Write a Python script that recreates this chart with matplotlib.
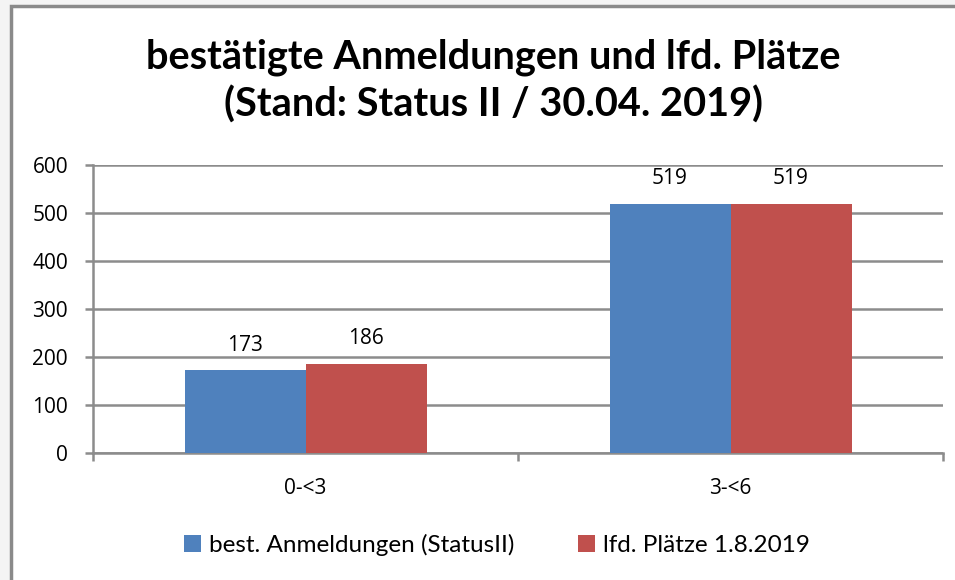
import matplotlib
matplotlib.use("Agg")
import matplotlib.pyplot as plt
from matplotlib.patches import Rectangle
import numpy as np

categories = ["0-<3", "3-<6"]
series_names = ["best. Anmeldungen (StatusII)", "lfd. Plätze 1.8.2019"]
anmeldungen = [173, 519]
plaetze = [186, 519]
yticks = [0, 100, 200, 300, 400, 500, 600]
title = "bestätigte Anmeldungen und lfd. Plätze\n(Stand: Status II / 30.04. 2019)"

colors = ["#4F81BD", "#C0504D"]
grid_c = "#8C8C8C"
num_font = "Open Sans"
num_size = 15

fig = plt.figure(figsize=(9.55, 5.8), dpi=100)
fig.patch.set_facecolor("#F4F4F4")
# chart area with border
fig.patches.append(Rectangle((11/955, -0.05), 1.0, 1 - 6/580 + 0.05,
                             transform=fig.transFigure, facecolor="white",
                             edgecolor="#8A8A8A", linewidth=2.5, zorder=-5))

ax = fig.add_axes([93/955, 1 - 453/580, (943 - 93)/955, (453 - 165)/580])
ax.set_facecolor("none")
ax.set_zorder(2)

x = np.arange(len(categories)) + 0.5
w = 121/425
for i, (vals, c) in enumerate(zip([anmeldungen, plaetze], colors)):
    pos = x + (i - 0.5) * w
    bars = ax.bar(pos, vals, width=w, color=c, label=series_names[i], zorder=3)
    for b, v in zip(bars, vals):
        ax.annotate(str(v), (b.get_x() + b.get_width()/2, v), xytext=(0, 14),
                    textcoords="offset points", ha="center", va="baseline",
                    fontsize=num_size, family=num_font, color="#000000")

ax.set_xlim(0, len(categories))
ax.set_ylim(0, 600)
ax.set_yticks(yticks)
ax.set_yticklabels([str(t) for t in yticks], family=num_font, fontsize=num_size)
ax.yaxis.grid(True, color=grid_c, linewidth=1.8, zorder=0)
ax.set_axisbelow(True)
ax.set_xticks(np.arange(len(categories) + 1))
ax.set_xticklabels([])
ax.set_xticks(x, minor=True)
ax.set_xticklabels(categories, minor=True, family=num_font, fontsize=num_size)
ax.tick_params(axis="x", which="minor", length=0, pad=18)
ax.tick_params(axis="x", which="major", length=6, width=1.8, color=grid_c, direction="out")
ax.tick_params(axis="y", length=6, width=1.8, color=grid_c, direction="out", pad=12)
for s in ["top", "right"]:
    ax.spines[s].set_visible(False)
for s in ["left", "bottom"]:
    ax.spines[s].set_color(grid_c)
    ax.spines[s].set_linewidth(1.8)

fig.text(493/955, 1 - 81/580, title, ha="center", va="center",
         fontsize=28.6, fontweight="bold", family="Lato", linespacing=1.33)

leg = fig.legend(loc="center", bbox_to_anchor=(497/955, 1 - 545/580), ncol=2,
                 frameon=False, prop={"family": "Lato", "size": 17.5},
                 handlelength=0.7, handleheight=0.7, handletextpad=0.35, columnspacing=2.6)

fig.savefig("out.png", dpi=100, facecolor=fig.get_facecolor())
